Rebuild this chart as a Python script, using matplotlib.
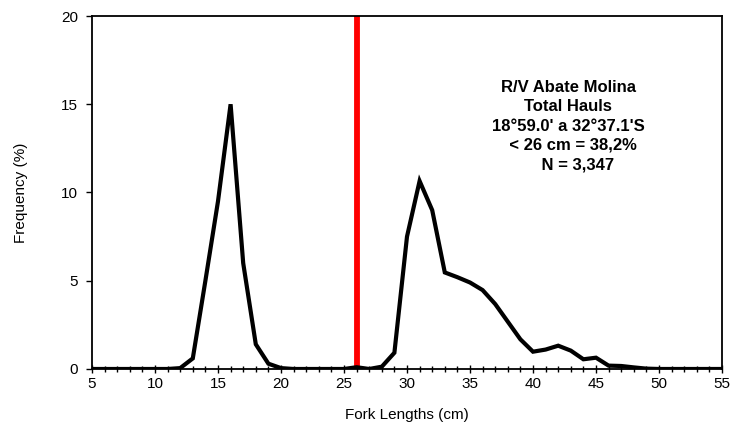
import numpy as np
import matplotlib.pyplot as plt
from matplotlib.ticker import MultipleLocator

plt.rcParams['font.family'] = ['Liberation Sans', 'DejaVu Sans']

# Fork length classes (cm) and frequency (%)
lengths = list(range(5, 56))
freq = [0, 0, 0, 0, 0, 0,                                        # 5-10
        0, 0.05, 0.6, 5.0, 9.5, 15.0, 6.0, 1.4, 0.3, 0.05,        # 11-20
        0, 0, 0, 0, 0, 0.1, 0, 0.13, 0.92, 7.5,                   # 21-30
        10.65, 9.0, 5.47, 5.2, 4.9, 4.47, 3.68, 2.68, 1.68, 0.98,  # 31-40
        1.1, 1.32, 1.04, 0.55, 0.64, 0.19, 0.17, 0.09, 0.02, 0,    # 41-50
        0, 0, 0, 0, 0]                                           # 51-55

cutoff = 26
info_lines = ["R/V Abate Molina", "Total Hauls", "18°59.0' a 32°37.1'S",
              "  < 26 cm = 38,2%", "    N = 3,347"]

fig = plt.figure(figsize=(7.33, 4.36), dpi=100)
ax = fig.add_axes([0.1255, 0.1537, 0.8595, 0.8096])

ax.plot(lengths, freq, color='black', linewidth=3, solid_joinstyle='miter', zorder=3)
ax.axvline(cutoff, color='#ff0000', linewidth=4.2, zorder=2)

ax.set_xlim(5, 55)
ax.set_ylim(0, 20)
ax.xaxis.set_major_locator(MultipleLocator(5))
ax.xaxis.set_minor_locator(MultipleLocator(1))
ax.yaxis.set_major_locator(MultipleLocator(5))
ax.tick_params(axis='x', which='major', direction='inout', length=6, width=1, labelsize=11, pad=3)
ax.tick_params(axis='x', which='minor', direction='inout', length=4, width=1)
ax.tick_params(axis='y', which='major', direction='out', length=4, width=1, labelsize=11, pad=6)
for s in ax.spines.values():
    s.set_linewidth(1.3)

ax.set_xlabel('Fork Lengths (cm)', fontsize=11, labelpad=12)
ax.set_ylabel('Frequency (%)', fontsize=11, labelpad=24)

ax.text(0.756, 0.688, "\n".join(info_lines), transform=ax.transAxes,
        ha='center', va='center', fontsize=12, fontweight='bold',
        linespacing=1.36, multialignment='center')

fig.savefig('out.png', dpi=100)
